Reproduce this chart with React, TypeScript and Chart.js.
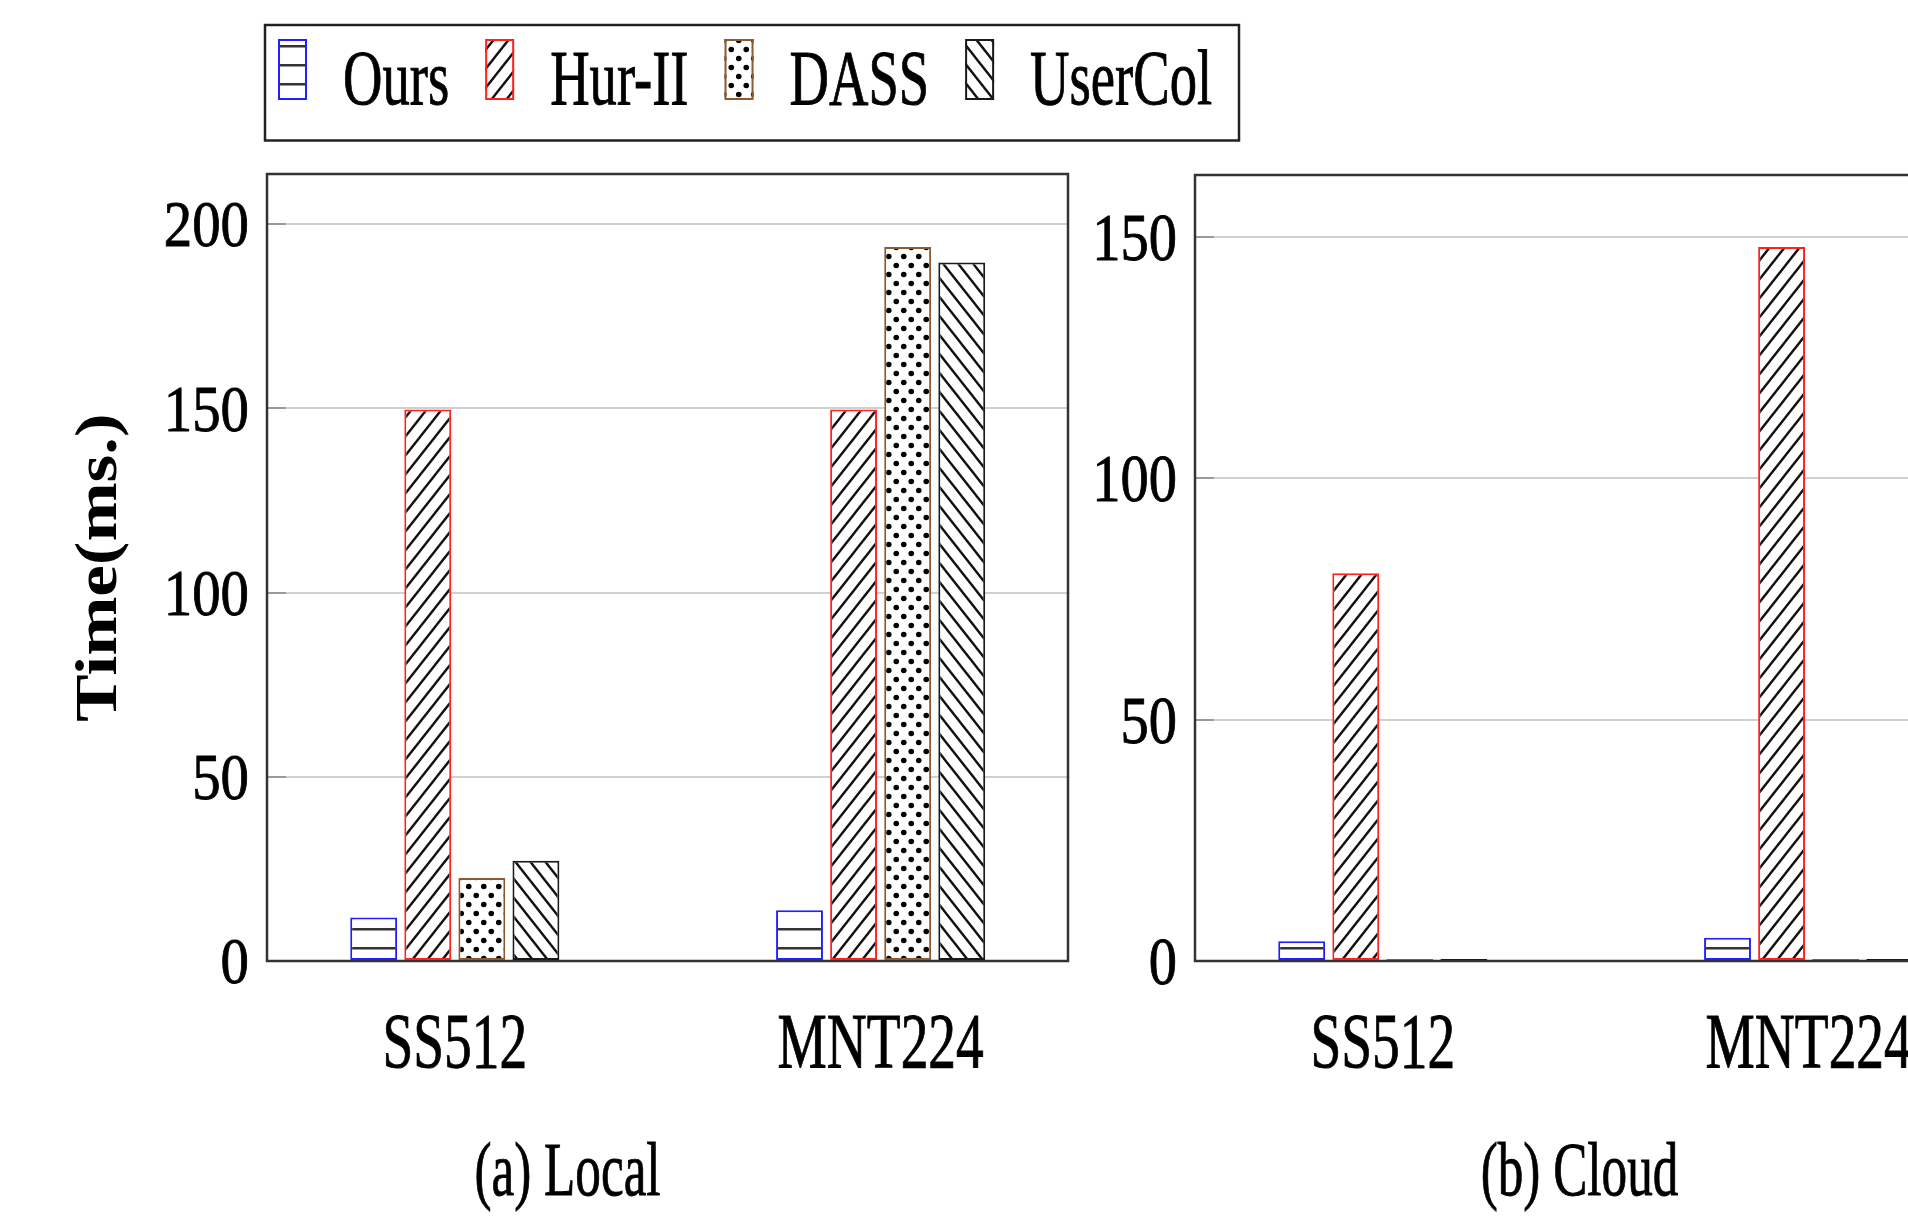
import React, { useEffect, useRef } from 'react';
import { Chart, registerables } from 'chart.js';

Chart.register(...registerables);

// ---------- data ----------
const categories = ['SS512', 'MNT224'];
const seriesNames = ['Ours', 'Hur-II', 'DASS', 'UserCol'];

const localOurs = [11.8, 13.8];
const localHurII = [149.7, 149.7];
const localDASS = [22.5, 193.8];
const localUserCol = [27.2, 189.6];

const cloudOurs = [4.1, 4.8];
const cloudHurII = [80.3, 147.9];
const cloudDASS = [0.4, 0.4];
const cloudUserCol = [0.4, 0.4];

const localTicks = [0, 50, 100, 150, 200];
const cloudTicks = [0, 50, 100, 150];

const subtitles = ['(a) Local', '(b) Cloud'];
const yTitle = 'Time(ms.)';

// ---------- styles ----------
const borderColors = ['#1f1fff', '#ff2020', '#8c5a2e', '#1a1a1a'];
const SERIF = '"Liberation Serif", "Times New Roman", serif';

function makePattern(kind: number, phase: number): CanvasPattern {
  const c = document.createElement('canvas');
  const g = c.getContext('2d') as CanvasRenderingContext2D;
  if (kind === 0) {
    c.width = 8;
    c.height = 19;
    g.fillStyle = '#ffffff';
    g.fillRect(0, 0, 8, 19);
    g.fillStyle = '#333333';
    g.fillRect(0, phase, 8, 2.5);
  } else if (kind === 1 || kind === 3) {
    const w = 15;
    const h = 19;
    c.width = w;
    c.height = h;
    g.fillStyle = '#ffffff';
    g.fillRect(0, 0, w, h);
    g.strokeStyle = '#111111';
    g.lineWidth = 2.4;
    for (let k = -2; k <= 2; k++) {
      g.beginPath();
      if (kind === 1) {
        g.moveTo(-w, h * (1 + k) + h);
        g.lineTo(2 * w, h * (1 + k) - 2 * h);
      } else {
        g.moveTo(-w, k * h - h);
        g.lineTo(2 * w, k * h + 2 * h);
      }
      g.stroke();
    }
  } else {
    const w = 15;
    const h = 18;
    c.width = w;
    c.height = h;
    g.fillStyle = '#ffffff';
    g.fillRect(0, 0, w, h);
    g.fillStyle = '#000000';
    g.beginPath();
    g.arc(3.75, 4.5, 2.8, 0, Math.PI * 2);
    g.fill();
    g.beginPath();
    g.arc(11.25, 13.5, 2.8, 0, Math.PI * 2);
    g.fill();
  }
  return g.createPattern(c, 'repeat') as CanvasPattern;
}

function drawText(
  ctx: CanvasRenderingContext2D,
  text: string,
  x: number,
  y: number,
  font: string,
  sx: number,
  align: CanvasTextAlign
) {
  ctx.save();
  ctx.font = font;
  ctx.fillStyle = '#000';
  ctx.strokeStyle = '#000';
  ctx.lineWidth = 0.9;
  ctx.textBaseline = 'alphabetic';
  ctx.textAlign = align;
  ctx.translate(x, y);
  ctx.scale(sx, 1);
  ctx.fillText(text, 0, 0);
  ctx.strokeText(text, 0, 0);
  ctx.restore();
}

interface Opts {
  values: number[][];
  ticks: number[];
  yMax: number;
  padding: { left: number; right: number; top: number; bottom: number };
  tickSize: number;
  tickScale: number;
  subtitle: string;
  subtitleDx: number;
  withTitle: boolean;
  withLegend: boolean;
}

function buildChart(canvas: HTMLCanvasElement, o: Opts): Chart {
  const patterns = [0, 1, 2, 3].map((k) => makePattern(k, 16));
  const legendPatterns = [0, 1, 2, 3].map((k) => makePattern(k, 7));

  const datasets = o.values.map((vals, i) => ({
    label: seriesNames[i],
    data: vals.map((v, j) => ({ x: j, y: v })),
    backgroundColor: patterns[i],
    borderColor: borderColors[i],
    borderWidth: 2,
    borderSkipped: false as const,
    categoryPercentage: 0.508,
    barPercentage: 0.867,
  }));

  const deco = {
    id: 'deco',
    beforeDatasetsDraw(chart: any) {
      const { ctx, chartArea: a } = chart;
      const ys = chart.scales.y;
      ctx.save();
      ctx.strokeStyle = '#9a9a9a';
      ctx.lineWidth = 2;
      o.ticks.forEach((v) => {
        if (v === 0) return;
        const py = Math.round(ys.getPixelForValue(v));
        ctx.beginPath();
        ctx.moveTo(a.left, py);
        ctx.lineTo(a.left + 19, py);
        ctx.stroke();
      });
      ctx.strokeStyle = '#333333';
      ctx.lineWidth = 2.5;
      ctx.strokeRect(a.left, a.top, a.right - a.left, a.bottom - a.top);
      ctx.restore();
    },
    afterDraw(chart: any) {
      const { ctx, chartArea: a } = chart;
      const ys = chart.scales.y;
      const xs = chart.scales.x;
      // y tick labels
      o.ticks.forEach((v) => {
        const py = ys.getPixelForValue(v);
        drawText(
          ctx,
          String(v),
          a.left - 18,
          py + 0.338 * o.tickSize,
          `${o.tickSize}px ${SERIF}`,
          o.tickScale,
          'right'
        );
      });
      // x category labels
      categories.forEach((c, j) => {
        drawText(ctx, c, xs.getPixelForValue(j), a.bottom + 106, `78px ${SERIF}`, 0.71, 'center');
      });
      // subtitle
      drawText(
        ctx,
        o.subtitle,
        (a.left + a.right) / 2 + o.subtitleDx,
        a.bottom + 234,
        `77px ${SERIF}`,
        0.665,
        'center'
      );
      // y title
      if (o.withTitle) {
        ctx.save();
        ctx.translate(a.left - 166, (a.top + a.bottom) / 2);
        ctx.rotate(-Math.PI / 2);
        ctx.scale(1, 0.84);
        ctx.font = `bold 71px ${SERIF}`;
        ctx.fillStyle = '#000';
        ctx.textAlign = 'center';
        ctx.textBaseline = 'middle';
        ctx.fillText(yTitle, 0, 0);
        ctx.restore();
      }
      // legend
      if (o.withLegend) {
        ctx.save();
        ctx.strokeStyle = '#222222';
        ctx.lineWidth = 2.5;
        ctx.strokeRect(265, 25, 974, 115.5);
        let x = 278;
        seriesNames.forEach((name, i) => {
          ctx.fillStyle = legendPatterns[i];
          ctx.fillRect(x, 39, 29, 61);
          ctx.strokeStyle = borderColors[i];
          ctx.lineWidth = 2;
          ctx.strokeRect(x + 1, 40, 27, 59);
          x += 29 + 36;
          ctx.font = `78px ${SERIF}`;
          const w = ctx.measureText(name).width * 0.7;
          drawText(ctx, name, x, 104, `78px ${SERIF}`, 0.7, 'left');
          x += w + 36;
        });
        ctx.restore();
      }
    },
  };

  return new Chart(canvas, {
    type: 'bar',
    data: { datasets: datasets as any },
    options: {
      animation: false,
      responsive: false,
      maintainAspectRatio: false,
      layout: { padding: o.padding },
      plugins: {
        legend: { display: false },
        tooltip: { enabled: false },
        title: { display: false },
      },
      scales: {
        x: {
          type: 'linear',
          display: false,
          offset: false,
          min: -0.441,
          max: 1.44,
          grid: { display: false, offset: false },
          afterBuildTicks: (axis: any) => {
            axis.ticks = categories.map((_, j) => ({ value: j }));
          },
        },
        y: {
          type: 'linear',
          min: 0,
          max: o.yMax,
          border: { display: false },
          grid: { color: '#d0d0d0', lineWidth: 2, drawTicks: false },
          ticks: { display: false },
          afterBuildTicks: (axis: any) => {
            axis.ticks = o.ticks.map((v) => ({ value: v }));
          },
        },
      },
    },
    plugins: [deco],
  } as any);
}

export default function App() {
  const leftRef = useRef<HTMLCanvasElement>(null);
  const rightRef = useRef<HTMLCanvasElement>(null);

  useEffect(() => {
    const left = buildChart(leftRef.current as HTMLCanvasElement, {
      values: [localOurs, localHurII, localDASS, localUserCol],
      ticks: localTicks,
      yMax: 213.6,
      padding: { left: 267, right: 1908 - 1068, top: 174, bottom: 1222 - 961 },
      tickSize: 66,
      tickScale: 0.86,
      subtitle: subtitles[0],
      subtitleDx: -100,
      withTitle: true,
      withLegend: true,
    });
    const right = buildChart(rightRef.current as HTMLCanvasElement, {
      values: [cloudOurs, cloudHurII, cloudDASS, cloudUserCol],
      ticks: cloudTicks,
      yMax: 162.8,
      padding: { left: 1195, right: 2100 - 1996, top: 175, bottom: 1222 - 961 },
      tickSize: 68,
      tickScale: 0.83,
      subtitle: subtitles[1],
      subtitleDx: -16,
      withTitle: false,
      withLegend: false,
    });
    return () => {
      left.destroy();
      right.destroy();
    };
  }, []);

  return (
    <div
      style={{
        position: 'fixed',
        left: 0,
        top: 0,
        width: 1908,
        height: 1222,
        overflow: 'hidden',
        background: '#ffffff',
      }}
    >
      <canvas ref={leftRef} width={1908} height={1222} style={{ position: 'absolute', left: 0, top: 0 }} />
      <canvas ref={rightRef} width={2100} height={1222} style={{ position: 'absolute', left: 0, top: 0 }} />
    </div>
  );
}
